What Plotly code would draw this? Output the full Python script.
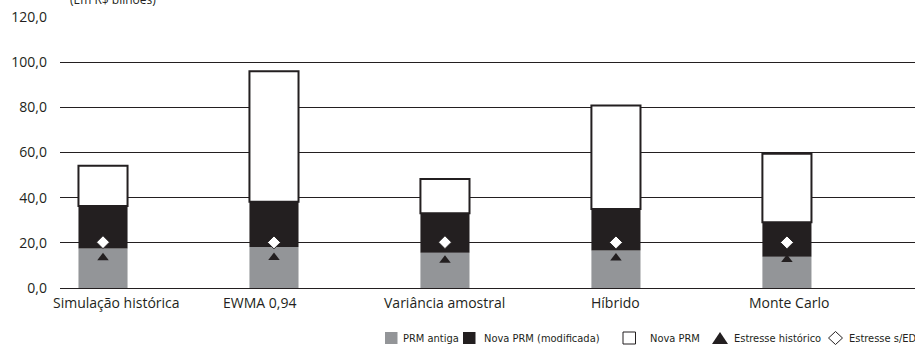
import plotly.graph_objects as go

categories = ["Simulação histórica", "EWMA 0,94", "Variância amostral", "Híbrido", "Monte Carlo"]
prm_antiga = [17.5, 18.2, 15.6, 16.6, 13.8]
nova_prm_modificada = [36.3, 38.2, 33.1, 35.0, 29.1]
nova_prm = [54.1, 96.0, 48.3, 80.8, 59.4]
estresse_historico = [13.4, 13.5, 12.3, 13.3, 12.6]
estresse_sed = [20.3, 20.2, 20.3, 20.2, 20.2]
legend_labels = ["PRM antiga", "Nova PRM (modificada)", "Nova PRM", "Estresse histórico", "Estresse s/ED"]

x = list(range(len(categories)))
bw = 0.287
FONT = "Open Sans"
LFONT = "DejaVu Sans Condensed, Liberation Sans Narrow, sans-serif"
GRAY = "#939598"
BLACK = "#231f20"

FW, FH = 915, 351
L, T, W, H = 60, 17, 855, 271


def px(xp):
    return (xp - L) / W


def py(yp):
    return (T + H - yp) / H


fig = go.Figure()
fig.add_trace(go.Bar(
    x=x, y=prm_antiga, base=[0] * len(x), width=bw, name=legend_labels[0],
    marker=dict(color=GRAY, line=dict(width=0)),
))
fig.add_trace(go.Bar(
    x=x, y=[b - a for a, b in zip(prm_antiga, nova_prm_modificada)], base=prm_antiga,
    width=bw, name=legend_labels[1],
    marker=dict(color=BLACK, line=dict(width=0)),
))
fig.add_trace(go.Bar(
    x=x, y=[c - b for b, c in zip(nova_prm_modificada, nova_prm)], base=nova_prm_modificada,
    width=bw, name=legend_labels[2],
    marker=dict(color="white", line=dict(color=BLACK, width=2)),
))
fig.add_trace(go.Scatter(
    x=x, y=estresse_historico, mode="markers", name=legend_labels[3],
    marker=dict(symbol="triangle-up", size=10, color=BLACK, line=dict(width=0)),
))
fig.add_trace(go.Scatter(
    x=x, y=estresse_sed, mode="markers", name=legend_labels[4],
    marker=dict(symbol="diamond", size=10, color="white", line=dict(color=BLACK, width=1)),
))

# manual legend (reference pixel positions converted to paper coords)
cy = 338
shapes = []
for x0, col, lw in [(385, GRAY, 0), (463, BLACK, 0), (623, "white", 1)]:
    shapes.append(dict(
        type="rect", xref="paper", yref="paper",
        x0=px(x0), x1=px(x0 + 12.5), y0=py(cy + 6), y1=py(cy - 6),
        fillcolor=col, line=dict(color=BLACK, width=lw),
    ))
shapes.append(dict(
    type="path", xref="paper", yref="paper",
    path=f"M {px(712)} {py(cy + 6)} L {px(728)} {py(cy + 6)} L {px(720)} {py(cy - 6)} Z",
    fillcolor=BLACK, line=dict(width=0),
))
shapes.append(dict(
    type="path", xref="paper", yref="paper",
    path=(f"M {px(828.5)} {py(cy)} L {px(835.5)} {py(cy - 6.5)} "
          f"L {px(842.5)} {py(cy)} L {px(835.5)} {py(cy + 6.5)} Z"),
    fillcolor="white", line=dict(color=BLACK, width=1),
))

annotations = [dict(
    text="(Em R$ bilhões)", xref="paper", yref="paper", x=px(68), y=py(0),
    xanchor="left", yanchor="middle", showarrow=False,
    font=dict(family=FONT, size=12, color=BLACK),
)]
for xs, lab in zip([401, 482, 648, 732, 847], legend_labels):
    annotations.append(dict(
        text=lab, xref="paper", yref="paper", x=px(xs), y=py(cy),
        xanchor="left", yanchor="middle", showarrow=False,
        font=dict(family=LFONT, size=11, color=BLACK),
    ))

# category labels placed on the x scale (slight offsets as in the reference)
label_shift = [13, -14, 0, 0, 2]
for i, (cat, sh) in enumerate(zip(categories, label_shift)):
    annotations.append(dict(
        text=cat, xref="x", yref="y", x=x[i], y=0,
        xanchor="center", yanchor="top", xshift=sh, yshift=-3, showarrow=False,
        font=dict(family=FONT, size=14, color=BLACK),
    ))

fig.update_layout(
    width=FW, height=FH,
    margin=dict(l=L, r=FW - L - W, t=T, b=FH - T - H, autoexpand=False),
    paper_bgcolor="white", plot_bgcolor="white",
    barmode="overlay",
    separators=",.",
    showlegend=False,
    font=dict(family=FONT, size=14, color=BLACK),
    xaxis=dict(
        range=[-0.2515, 4.749], tickmode="array", tickvals=x, showticklabels=False,
        showgrid=False, zeroline=False, showline=False, ticks="",
    ),
    yaxis=dict(
        range=[0, 120], dtick=20, tickformat=".1f",
        showgrid=True, gridcolor=BLACK, gridwidth=1.3,
        zeroline=True, zerolinecolor=BLACK, zerolinewidth=1.3,
        showline=False, ticks="", ticklabelstandoff=12,
        ticklabeloverflow="allow",
        tickfont=dict(family=FONT, size=14, color=BLACK),
    ),
    shapes=shapes,
    annotations=annotations,
)

fig.write_html(
    "out.html",
    config={"displayModeBar": False},
    post_script="document.body.style.margin='0';document.body.style.overflow='hidden';",
)
